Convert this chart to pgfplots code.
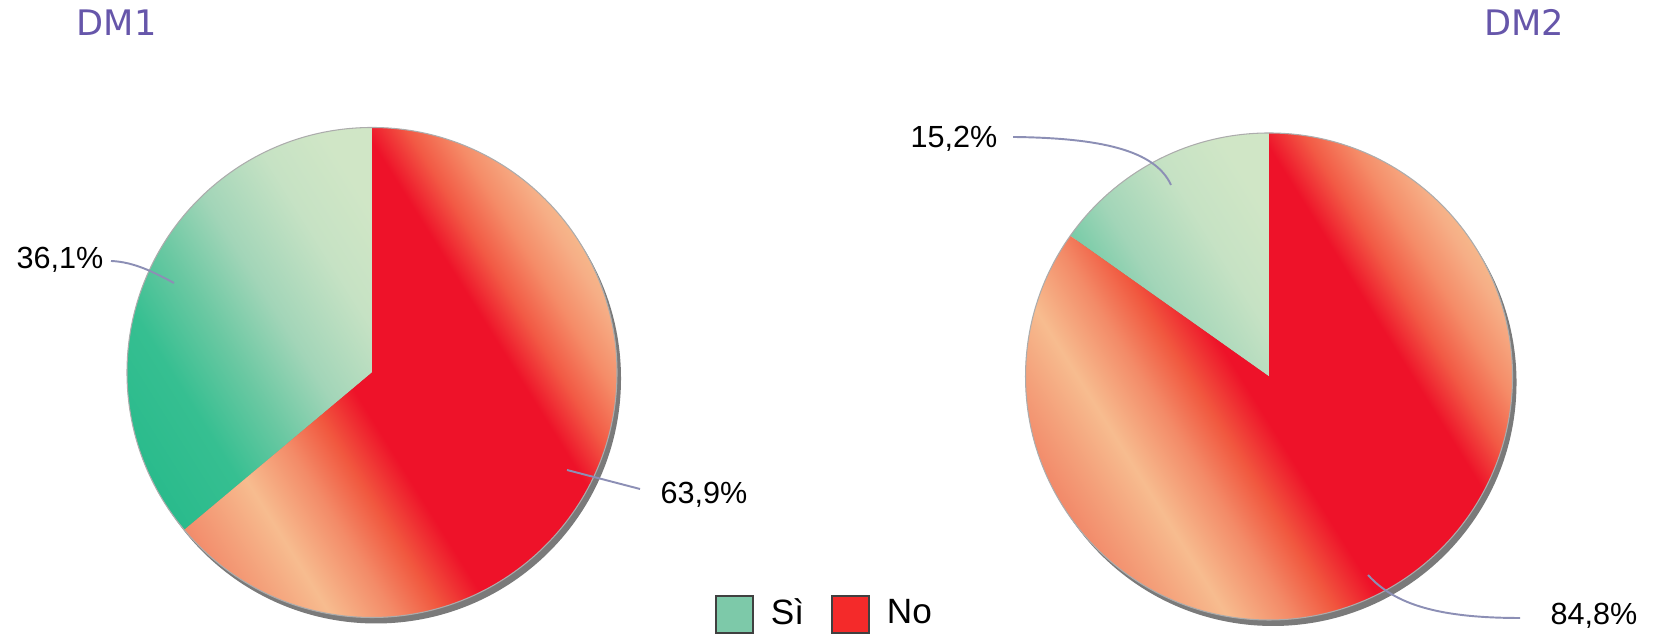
\documentclass[border=0pt]{standalone}
\usepackage{fontspec}
\setmainfont{Liberation Sans}
\newfontfamily\titlefont{DejaVu Sans}
\usepackage{pgfplots}
\usepackage{pgfplotstable}
\pgfplotsset{compat=1.18}

\definecolor{titlepurple}{HTML}{6656AA}
\definecolor{leader}{HTML}{8C8FB5}
\definecolor{legGreen}{HTML}{7DC9A9}
\definecolor{legRed}{HTML}{F42A2A}
\definecolor{shadowgray}{HTML}{7A7A7A}
% stops of the red gradient (lower left to upper right)
\definecolor{rA}{HTML}{F28A6A}
\definecolor{rB}{HTML}{F4A07A}
\definecolor{rC}{HTML}{F7BC8F}
\definecolor{rD}{HTML}{F38B68}
\definecolor{rE}{HTML}{F1583F}
\definecolor{rF}{HTML}{EE1229}
\definecolor{rG}{HTML}{F25A45}
\definecolor{rH}{HTML}{F58C68}
\definecolor{rI}{HTML}{F6AE86}
\definecolor{rJ}{HTML}{F6B68A}
% stops of the green gradient
\definecolor{gA}{HTML}{2ABB8C}
\definecolor{gB}{HTML}{36BF91}
\definecolor{gC}{HTML}{6AC8A2}
\definecolor{gD}{HTML}{A2D5B8}
\definecolor{gE}{HTML}{C6E2C4}
\definecolor{gF}{HTML}{D0E6C6}

\pgfdeclarehorizontalshading{redpie}{100bp}{color(0bp)=(rA); color(25bp)=(rA);
  color(28.75bp)=(rB); color(33.25bp)=(rC); color(38.75bp)=(rD); color(43bp)=(rE);
  color(47.5bp)=(rF); color(62.5bp)=(rF); color(66.25bp)=(rG); color(70bp)=(rH);
  color(73.75bp)=(rI); color(75bp)=(rJ); color(100bp)=(rJ)}
\pgfdeclarehorizontalshading{greenpie}{100bp}{color(0bp)=(gA); color(25bp)=(gA);
  color(32.5bp)=(gB); color(38.75bp)=(gC); color(45bp)=(gD); color(52.5bp)=(gE);
  color(58.75bp)=(gF); color(100bp)=(gF)}

% answers in percent
\pgfplotstableread{
answer share
Si 36.1
No 63.9
}\dmone
\pgfplotstableread{
answer share
Si 15.2
No 84.8
}\dmtwo

% #1,#2 centre (axis units), #3 radius, #4 sweep of "Si", #5 sweep of "No"
\newcommand\pieslices[5]{%
  \fill[shadowgray, xshift=0.04cm, yshift=-0.06cm] (axis cs:#1,#2) circle[radius=#3];
  \begin{scope}
    \clip (axis cs:#1,#2) -- ++(90:#3) arc[start angle=90, delta angle=#4, radius=#3] -- cycle;
    \shade[shading=greenpie, shading angle=32] (axis cs:#1,#2) circle[radius=#3];
  \end{scope}
  \begin{scope}
    \clip (axis cs:#1,#2) -- ++(90:#3) arc[start angle=90, delta angle=#5, radius=#3] -- cycle;
    \shade[shading=redpie, shading angle=32] (axis cs:#1,#2) circle[radius=#3];
  \end{scope}
  \draw[gray!65, line width=0.3pt] (axis cs:#1,#2) circle[radius=#3];
}

\begin{document}
\begin{tikzpicture}
\pgfplotstablegetelem{0}{share}\of\dmone \pgfmathsetmacro\siSweepA{3.6*\pgfplotsretval}
\pgfplotstablegetelem{1}{share}\of\dmone \pgfmathsetmacro\noSweepA{-3.6*\pgfplotsretval}
\pgfplotstablegetelem{0}{share}\of\dmtwo \pgfmathsetmacro\siSweepB{3.6*\pgfplotsretval}
\pgfplotstablegetelem{1}{share}\of\dmtwo \pgfmathsetmacro\noSweepB{-3.6*\pgfplotsretval}
\begin{axis}[
  scale only axis, width=16.55cm, height=6.39cm,
  xmin=0, xmax=1655, ymin=0, ymax=639,
  hide axis, clip=false,
  legend image code/.code={\draw[#1, draw=black!75, line width=0.5pt] (0cm,-0.185cm) rectangle (0.37cm,0.185cm);},
  legend style={at={(axis cs:827,24.5)}, anchor=center, draw=none, fill=none,
    legend columns=2, font=\fontsize{10}{12}\selectfont,
    /tikz/every odd column/.append style={column sep=0.1cm},
    /tikz/every even column/.append style={column sep=0.2cm}},
]
\addlegendimage{fill=legGreen}
\addlegendentry{Sì}
\addlegendimage{fill=legRed}
\addlegendentry{No}

\pieslices{372}{266.5}{2.45cm}{\siSweepA}{\noSweepA}
\pieslices{1269}{262.5}{2.435cm}{\siSweepB}{\noSweepB}

% leader lines
\draw[leader, line width=0.55pt] (axis cs:111,378) .. controls (axis cs:135,377) and (axis cs:155,366) .. (axis cs:174,356);
\draw[leader, line width=0.55pt] (axis cs:567,169) -- (axis cs:640,150);
\draw[leader, line width=0.55pt] (axis cs:1013,502) .. controls (axis cs:1100,501) and (axis cs:1155,489) .. (axis cs:1171,454);
\draw[leader, line width=0.55pt] (axis cs:1368,64) .. controls (axis cs:1395,34) and (axis cs:1440,21) .. (axis cs:1520,21);

% percentages
\node[anchor=base west, inner sep=0, font=\fontsize{8.7}{10}\selectfont] at (axis cs:16,370.5) {36,1\%};
\node[anchor=base west, inner sep=0, font=\fontsize{8.7}{10}\selectfont] at (axis cs:660,135.7) {63,9\%};
\node[anchor=base west, inner sep=0, font=\fontsize{8.7}{10}\selectfont] at (axis cs:910,491) {15,2\%};
\node[anchor=base west, inner sep=0, font=\fontsize{8.7}{10}\selectfont] at (axis cs:1550,14) {84,8\%};

% pie titles
\node[anchor=base west, inner sep=0, text=titlepurple, font=\titlefont\fontsize{10}{12}\selectfont] at (axis cs:76,603) {DM1};
\node[anchor=base east, inner sep=0, text=titlepurple, font=\titlefont\fontsize{10}{12}\selectfont] at (axis cs:1565,603) {DM2};
\end{axis}
\pgfresetboundingbox
\path[use as bounding box] (0,0) rectangle (16.55cm,6.39cm);
\end{tikzpicture}
\end{document}
